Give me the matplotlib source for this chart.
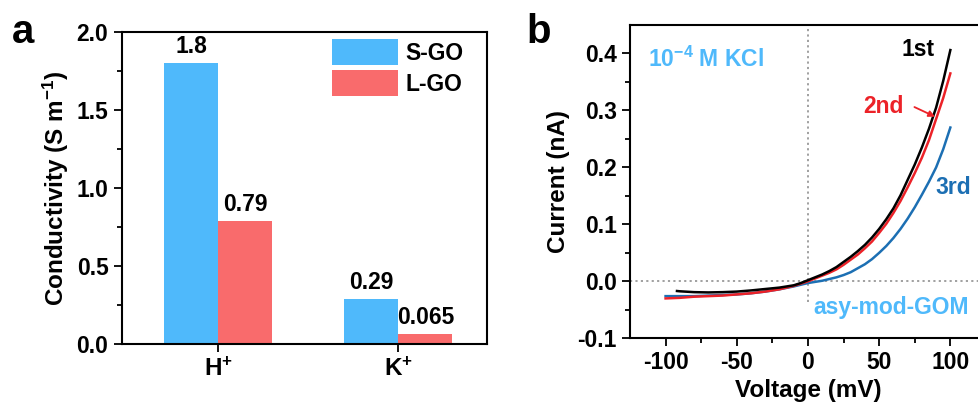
import numpy as np
import matplotlib
matplotlib.use("Agg")
import matplotlib.pyplot as plt

plt.rcParams['font.family'] = ['Liberation Sans', 'DejaVu Sans']
plt.rcParams['font.weight'] = 'bold'
plt.rcParams['mathtext.fontset'] = 'custom'
plt.rcParams['mathtext.rm'] = 'Liberation Sans:bold'
plt.rcParams['mathtext.bf'] = 'Liberation Sans:bold'
plt.rcParams['mathtext.default'] = 'bf'

# panel a data
ions = ['H$^{+}$', 'K$^{+}$']
s_go = [1.8, 0.29]
l_go = [0.79, 0.065]
s_go_labels = ['1.8', '0.29']
l_go_labels = ['0.79', '0.065']

# panel b data (voltage in mV, current in nA)
v_1st = [-92, -90, -80, -70, -60, -50, -40, -30, -20, -10, -5, 0, 5, 10, 15, 20, 25, 30, 35, 40,
         45, 50, 55, 60, 65, 70, 75, 80, 85, 90, 95, 100]
i_1st = [-0.017, -0.0175, -0.019, -0.0195, -0.019, -0.018, -0.016, -0.0135, -0.011, -0.007, -0.003,
         0.002, 0.007, 0.012, 0.018, 0.025, 0.034, 0.043, 0.053, 0.064, 0.077, 0.092, 0.109, 0.128,
         0.151, 0.178, 0.205, 0.235, 0.268, 0.305, 0.352, 0.406]
v_2nd = [-100, -90, -80, -70, -60, -50, -40, -30, -20, -10, -5, 0, 5, 10, 15, 20, 25, 30, 35, 40,
         45, 50, 55, 60, 65, 70, 75, 80, 85, 90, 95, 100]
i_2nd = [-0.030, -0.029, -0.027, -0.026, -0.025, -0.023, -0.021, -0.018, -0.014, -0.008, -0.004,
         0.0, 0.005, 0.010, 0.015, 0.021, 0.029, 0.038, 0.047, 0.058, 0.070, 0.085, 0.101, 0.120,
         0.141, 0.165, 0.190, 0.217, 0.248, 0.285, 0.322, 0.365]
v_3rd = v_2nd
i_3rd = [-0.026, -0.026, -0.026, -0.025, -0.024, -0.023, -0.021, -0.018, -0.014, -0.009, -0.006,
         -0.003, -0.001, 0.001, 0.004, 0.007, 0.011, 0.016, 0.023, 0.030, 0.039, 0.050, 0.062, 0.076,
         0.092, 0.110, 0.130, 0.152, 0.175, 0.200, 0.232, 0.270]

light_blue = '#4fb9fb'
light_red = '#f96b6c'
c_1st = 'black'
c_2nd = '#ec2228'
c_3rd = '#1c6fb3'

fig = plt.figure(figsize=(9.79, 4.09), dpi=100)
ax1 = fig.add_axes([0.1243, 0.1582, 0.3728, 0.7643])
ax2 = fig.add_axes([0.6435, 0.1729, 0.3636, 0.7660])

tick_fs = 16.5
label_fs = 17.5

for ax in (ax1, ax2):
    for sp in ax.spines.values():
        sp.set_linewidth(1.5)
    ax.tick_params(which='major', direction='out', length=6, width=1.3, labelsize=tick_fs)
    ax.tick_params(which='minor', direction='out', length=3.5, width=1.3)

# ---- panel a: bar chart
x = np.arange(len(ions))
w = 0.3
ax1.bar(x - w / 2, s_go, w, color=light_blue, label='S-GO')
ax1.bar(x + w / 2, l_go, w, color=light_red, label='L-GO')
for xi, v, t in zip(x, s_go, s_go_labels):
    ax1.text(xi - w / 2, v + 0.03, t, ha='center', va='bottom', fontsize=tick_fs, fontweight='bold')
for xi, v, t in zip(x, l_go, l_go_labels):
    ax1.text(xi + w / 2, v + 0.03, t, ha='center', va='bottom', fontsize=tick_fs, fontweight='bold')
ax1.set_xlim(-0.537, 1.49)
ax1.set_ylim(0, 2.0)
ax1.set_xticks(x)
ax1.set_xticklabels(ions, fontsize=label_fs)
ax1.set_yticks([0.0, 0.5, 1.0, 1.5, 2.0])
ax1.set_yticklabels(['0.0', '0.5', '1.0', '1.5', '2.0'])
ax1.set_yticks([0.25, 0.75, 1.25, 1.75], minor=True)
ax1.set_ylabel('Conductivity (S m$^{-1}$)', fontsize=label_fs, fontweight='bold', labelpad=4)
ax1.legend(loc='upper left', bbox_to_anchor=(0.576, 0.977), frameon=False, fontsize=tick_fs,
           handlelength=2.9, handleheight=1.4, handletextpad=0.3, labelspacing=0.2,
           borderpad=0, borderaxespad=0)

# ---- panel b: I-V curves
ax2.axhline(0, color='#999999', linestyle=(0, (1.2, 1.8)), linewidth=1.3, zorder=1)
ax2.axvline(0, ymin=0.116, color='#999999', linestyle=(0, (1.2, 1.8)), linewidth=1.3, zorder=1)
ax2.plot(v_3rd, i_3rd, color=c_3rd, linewidth=1.8)
ax2.plot(v_2nd, i_2nd, color=c_2nd, linewidth=1.8)
ax2.plot(v_1st, i_1st, color=c_1st, linewidth=1.8)
ax2.set_xlim(-125, 125)
ax2.set_ylim(-0.1, 0.45)
ax2.set_xticks([-100, -50, 0, 50, 100])
ax2.set_xticks([-75, -25, 25, 75], minor=True)
ax2.set_xticklabels(['-100', '-50', '0', '50', '100'])
ax2.set_yticks([-0.1, 0.0, 0.1, 0.2, 0.3, 0.4])
ax2.set_yticklabels(['-0.1', '0.0', '0.1', '0.2', '0.3', '0.4'])
ax2.set_yticks([-0.05, 0.05, 0.15, 0.25, 0.35], minor=True)
ax2.set_xlabel('Voltage (mV)', fontsize=label_fs, fontweight='bold', labelpad=3)
ax2.set_ylabel('Current (nA)', fontsize=label_fs, fontweight='bold', labelpad=5)

ax2.text(-112, 0.39, '10$^{-4}$ M KCl', color=light_blue, fontsize=tick_fs, fontweight='bold',
         ha='left', va='center')
ax2.text(77, 0.407, '1st', color=c_1st, fontsize=tick_fs, fontweight='bold', ha='center', va='center')
ax2.text(53, 0.307, '2nd', color=c_2nd, fontsize=tick_fs, fontweight='bold', ha='center', va='center')
ax2.annotate('', xy=(91, 0.287), xytext=(73, 0.308),
             arrowprops=dict(arrowstyle='-|>', color=c_2nd, lw=1.3, mutation_scale=9))
ax2.text(102, 0.164, '3rd', color=c_3rd, fontsize=tick_fs, fontweight='bold', ha='center', va='center')
ax2.text(4, -0.046, 'asy-mod-GOM', color=light_blue, fontsize=tick_fs, fontweight='bold',
         ha='left', va='center', bbox=dict(facecolor='white', edgecolor='none', pad=1))

fig.text(0.012, 0.895, 'a', fontsize=29, fontweight='bold', ha='left', va='baseline')
fig.text(0.538, 0.895, 'b', fontsize=29, fontweight='bold', ha='left', va='baseline')

fig.savefig('out.png', dpi=100)
